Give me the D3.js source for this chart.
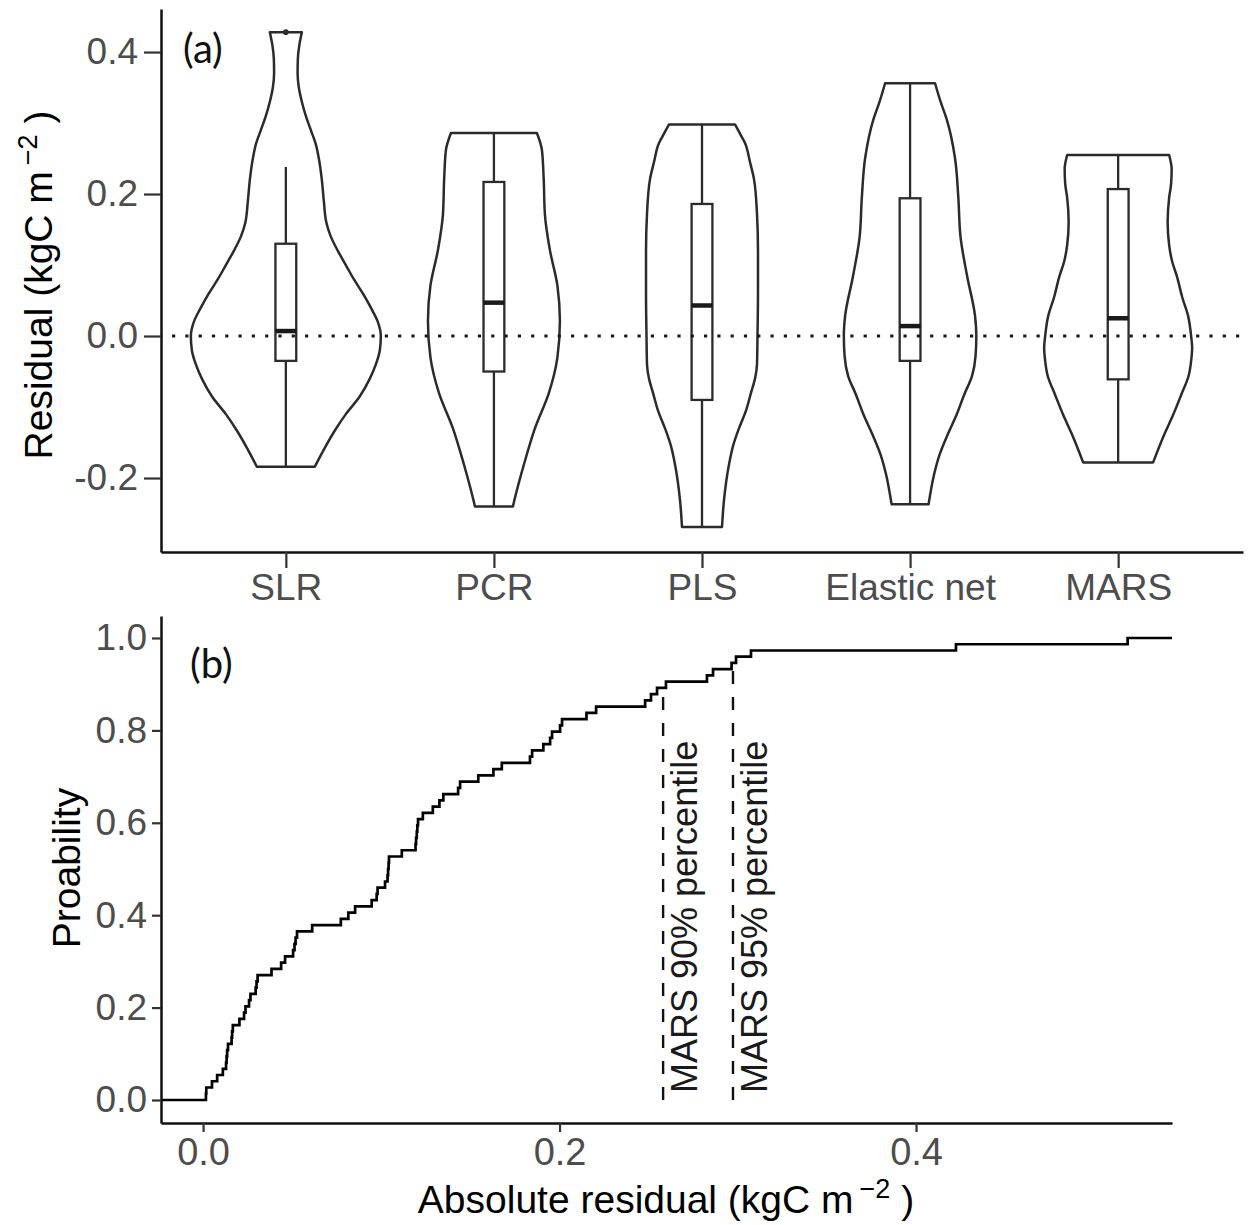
<!DOCTYPE html>
<html lang="en">
<head>
  <meta charset="UTF-8">
  <title>Model residuals</title>
  <script src="https://d3js.org/d3.v7.min.js"></script>
  <style>
    body { margin: 0; background: #fff; }
    svg { display: block; background: #fff; }
    .tick text { font-family: "Liberation Sans", Arial, sans-serif; fill: #4d4d4d; }
    .tick line { stroke: #333; stroke-width: 2.2; }
    .domain { stroke: #111; stroke-width: 2.5; }
    .title { font-family: "Liberation Sans", Arial, sans-serif; fill: #000; }
    .panel-tag { font-family: Lato, "Open Sans", sans-serif; fill: #111; }
  </style>
</head>
<body>
<svg id="chart" width="1254" height="1225"></svg>
<script>
  // ---- panel (a): residual distributions ----
  const models = ["SLR", "PCR", "PLS", "Elastic net", "MARS"];

  // violin outlines: [residual, density]
  const slrDensity = [[0.428, 0.64], [0.41, 0.54], [0.39, 0.48], [0.37, 0.47], [0.35, 0.52], [0.33, 0.64],
    [0.31, 0.80], [0.29, 1.00], [0.27, 1.20], [0.25, 1.32], [0.22, 1.44], [0.19, 1.52], [0.16, 1.62],
    [0.14, 1.80], [0.12, 2.08], [0.10, 2.40], [0.08, 2.72], [0.06, 3.08], [0.04, 3.40], [0.02, 3.68],
    [0.00, 3.80], [-0.02, 3.76], [-0.04, 3.60], [-0.06, 3.36], [-0.086, 2.94], [-0.11, 2.40],
    [-0.132, 1.98], [-0.156, 1.58], [-0.184, 1.16]];
  const pcrDensity = [[0.286, 1.72], [0.262, 1.92], [0.222, 1.99], [0.171, 2.04], [0.121, 2.24],
    [0.071, 2.54], [0.021, 2.64], [-0.03, 2.54], [-0.08, 2.20], [-0.13, 1.64], [-0.181, 1.20],
    [-0.231, 0.82], [-0.240, 0.76]];
  const plsDensity = [[0.298, 1.32], [0.285, 1.52], [0.272, 1.72], [0.245, 1.92], [0.221, 2.08],
    [0.172, 2.20], [0.12, 2.24], [0.06, 2.24], [0.0, 2.22], [-0.04, 2.20], [-0.06, 2.12], [-0.08, 1.96],
    [-0.105, 1.76], [-0.13, 1.48], [-0.155, 1.24], [-0.181, 1.08], [-0.231, 0.88], [-0.269, 0.80]];
  const elasticDensity = [[0.356, 1.00], [0.33, 1.22], [0.306, 1.46], [0.25, 1.80], [0.195, 1.93],
    [0.139, 2.02], [0.083, 2.29], [0.028, 2.60], [0.0, 2.65], [-0.028, 2.62], [-0.056, 2.48],
    [-0.083, 2.16], [-0.111, 1.86], [-0.139, 1.50], [-0.167, 1.18], [-0.195, 0.96], [-0.237, 0.74]];
  const marsDensity = [[0.255, 2.04], [0.235, 2.14], [0.215, 2.12], [0.195, 2.04], [0.161, 1.98],
    [0.128, 2.04], [0.105, 2.16], [0.083, 2.36], [0.055, 2.56], [0.028, 2.80], [0.0, 2.92],
    [-0.017, 2.96], [-0.035, 2.92], [-0.056, 2.82], [-0.083, 2.52], [-0.111, 2.20], [-0.139, 1.84],
    [-0.178, 1.40]];

  // boxplot statistics, same order as models
  const q1Values = [-0.035, -0.050, -0.090, -0.035, -0.061];
  const medianValues = [0.007, 0.047, 0.043, 0.014, 0.025];
  const q3Values = [0.130, 0.217, 0.186, 0.194, 0.207];
  const whiskerLow = [-0.184, -0.240, -0.269, -0.237, -0.178];
  const whiskerHigh = [0.238, 0.286, 0.298, 0.356, 0.255];
  const outlierValues = [[0.428], [], [], [], []];

  const residualTicks = [-0.2, 0.0, 0.2, 0.4];

  // ---- panel (b): ECDF of absolute residuals (MARS) ----
  const absResiduals = [0.0016, 0.0018, 0.0050, 0.0079, 0.0111, 0.0129, 0.0132, 0.0135, 0.0140, 0.0160,
    0.0163, 0.0167, 0.0204, 0.0230, 0.0238, 0.0258, 0.0266, 0.0295, 0.0300, 0.0306, 0.0384, 0.0438,
    0.0460, 0.0505, 0.0513, 0.0519, 0.0527, 0.0612, 0.0773, 0.0815, 0.0853, 0.0946, 0.0974, 0.0979,
    0.1021, 0.1035, 0.1038, 0.1041, 0.1043, 0.1115, 0.1192, 0.1195, 0.1199, 0.1202, 0.1206, 0.1233,
    0.1289, 0.1326, 0.1348, 0.1431, 0.1442, 0.1544, 0.1629, 0.1676, 0.1834, 0.1846, 0.1909, 0.1947,
    0.1958, 0.2003, 0.2014, 0.2151, 0.2205, 0.2480, 0.2513, 0.2547, 0.2597, 0.2827, 0.2861, 0.2965,
    0.2990, 0.3074, 0.4224, 0.5187];
  const percentileValues = [0.2581, 0.2973];
  const percentileTops = [0.90, 0.95];
  const percentileLabels = ["MARS 90% percentile", "MARS 95% percentile"];
  const absTicks = [0.0, 0.2, 0.4];
  const probTicks = [0.0, 0.2, 0.4, 0.6, 0.8, 1.0];

  const svg = d3.select("#chart");
  const fmt = d => d.toFixed(1);

  // ================= panel (a) =================
  const xTop = d3.scalePoint().domain(models).range([161, 1243]).padding(0.6);
  const yTop = d3.scaleLinear().domain([-0.3042, 0.4606]).range([552, 9]);
  const densities = [slrDensity, pcrDensity, plsDensity, elasticDensity, marsDensity];
  const maxDensity = d3.max(densities, arr => d3.max(arr, d => d[1]));
  const halfWidth = d3.scaleLinear().domain([0, maxDensity]).range([0, xTop.step() * 0.4565]);
  const boxHalf = xTop.step() * 0.05;

  const gA = svg.append("g");

  densities.forEach((dens, i) => {
    const cx = xTop(models[i]);
    const area = d3.area()
      .y(d => yTop(d[0]))
      .x0(d => cx - halfWidth(d[1]))
      .x1(d => cx + halfWidth(d[1]))
      .curve(d3.curveMonotoneY);
    gA.append("path")
      .attr("d", area(dens))
      .attr("fill", "#fff")
      .attr("stroke", "#2b2b2b")
      .attr("stroke-width", 2.5)
      .attr("stroke-linejoin", "round");

    // whiskers
    gA.append("line")
      .attr("x1", cx).attr("x2", cx)
      .attr("y1", yTop(whiskerHigh[i])).attr("y2", yTop(whiskerLow[i]))
      .attr("stroke", "#2b2b2b").attr("stroke-width", 2.3);
    // box
    gA.append("rect")
      .attr("x", cx - boxHalf)
      .attr("y", yTop(q3Values[i]))
      .attr("width", boxHalf * 2)
      .attr("height", yTop(q1Values[i]) - yTop(q3Values[i]))
      .attr("fill", "#fff")
      .attr("stroke", "#2b2b2b")
      .attr("stroke-width", 2.3);
    // median
    gA.append("line")
      .attr("x1", cx - boxHalf).attr("x2", cx + boxHalf)
      .attr("y1", yTop(medianValues[i])).attr("y2", yTop(medianValues[i]))
      .attr("stroke", "#1a1a1a").attr("stroke-width", 4.5);
    // outliers
    gA.selectAll(null)
      .data(outlierValues[i])
      .enter()
      .append("circle")
      .attr("cx", cx)
      .attr("cy", d => yTop(d))
      .attr("r", 2.8)
      .attr("fill", "#2b2b2b");
  });

  // dotted zero line over everything
  gA.append("line")
    .attr("x1", 161).attr("x2", 1243)
    .attr("y1", yTop(0)).attr("y2", yTop(0))
    .attr("stroke", "#1a1a1a")
    .attr("stroke-width", 3.2)
    .attr("stroke-dasharray", "3.2,10.1")
    .attr("stroke-dashoffset", -11);

  gA.append("g")
    .attr("transform", "translate(161,0)")
    .call(d3.axisLeft(yTop).tickValues(residualTicks).tickFormat(fmt).tickSize(17).tickPadding(6).tickSizeOuter(0))
    .call(g => g.selectAll(".tick text").style("font-size", "37px"));

  gA.append("g")
    .attr("transform", "translate(0,552)")
    .call(d3.axisBottom(xTop).tickSize(16).tickPadding(6).tickSizeOuter(0))
    .call(g => g.selectAll(".tick text").style("font-size", "37px"));

  // y title with superscript
  const yTitleA = gA.append("text")
    .attr("class", "title")
    .attr("transform", "translate(52,285) rotate(-90)")
    .attr("text-anchor", "middle")
    .style("font-size", "39px");
  yTitleA.append("tspan").text("Residual (kgC m");
  yTitleA.append("tspan").attr("dx", 6).attr("dy", -15).style("font-size", "27px").text("\u22122");
  yTitleA.append("tspan").attr("dy", 15).text(" )");

  gA.append("text")
    .attr("class", "panel-tag")
    .attr("x", 183).attr("y", 63)
    .style("font-size", "40px")
    .text("(a)");

  // ================= panel (b) =================
  const xBot = d3.scaleLinear().domain([-0.0236, 0.5436]).range([161, 1172]);
  const yBot = d3.scaleLinear().domain([-0.0498, 1.0476]).range([1123, 616]);
  const gB = svg.append("g");

  const sorted = absResiduals.slice().sort(d3.ascending);
  const n = sorted.length;
  const ecdfPts = [[xBot.domain()[0], 0]]
    .concat(sorted.map((v, i) => [v, (i + 1) / n]))
    .concat([[xBot.domain()[1], 1]]);

  gB.append("path")
    .attr("d", d3.line().x(d => xBot(d[0])).y(d => yBot(d[1])).curve(d3.curveStepAfter)(ecdfPts))
    .attr("fill", "none")
    .attr("stroke", "#000")
    .attr("stroke-width", 2.7);

  percentileValues.forEach((p, i) => {
    gB.append("line")
      .attr("x1", xBot(p)).attr("x2", xBot(p))
      .attr("y1", yBot(0)).attr("y2", yBot(percentileTops[i]))
      .attr("stroke", "#111")
      .attr("stroke-width", 2.4)
      .attr("stroke-dasharray", "13,13");
    gB.append("text")
      .attr("class", "title")
      .attr("transform", `translate(${xBot(p) + 34},${yBot(0) - 7}) rotate(-90)`)
      .attr("text-anchor", "start")
      .style("font-size", "36px")
      .style("fill", "#1a1a1a")
      .text(percentileLabels[i]);
  });

  gB.append("g")
    .attr("transform", "translate(161,0)")
    .call(d3.axisLeft(yBot).tickValues(probTicks).tickFormat(fmt).tickSize(9).tickPadding(5).tickSizeOuter(0))
    .call(g => g.selectAll(".tick text").style("font-size", "37px"));

  gB.append("g")
    .attr("transform", "translate(0,1123)")
    .call(d3.axisBottom(xBot).tickValues(absTicks).tickFormat(fmt).tickSize(9).tickPadding(6).tickSizeOuter(0))
    .call(g => g.selectAll(".tick text").style("font-size", "38px"));

  gB.append("text")
    .attr("class", "title")
    .attr("transform", "translate(80,868) rotate(-90)")
    .attr("text-anchor", "middle")
    .style("font-size", "39px")
    .text("Proability");

  const xTitleB = gB.append("text")
    .attr("class", "title")
    .attr("x", 666).attr("y", 1213)
    .attr("text-anchor", "middle")
    .style("font-size", "39px");
  xTitleB.append("tspan").text("Absolute residual (kgC m");
  xTitleB.append("tspan").attr("dx", 6).attr("dy", -15).style("font-size", "27px").text("\u22122");
  xTitleB.append("tspan").attr("dy", 15).text(" )");

  gB.append("text")
    .attr("class", "panel-tag")
    .attr("x", 190).attr("y", 678)
    .style("font-size", "40px")
    .text("(b)");
</script>
</body>
</html>
